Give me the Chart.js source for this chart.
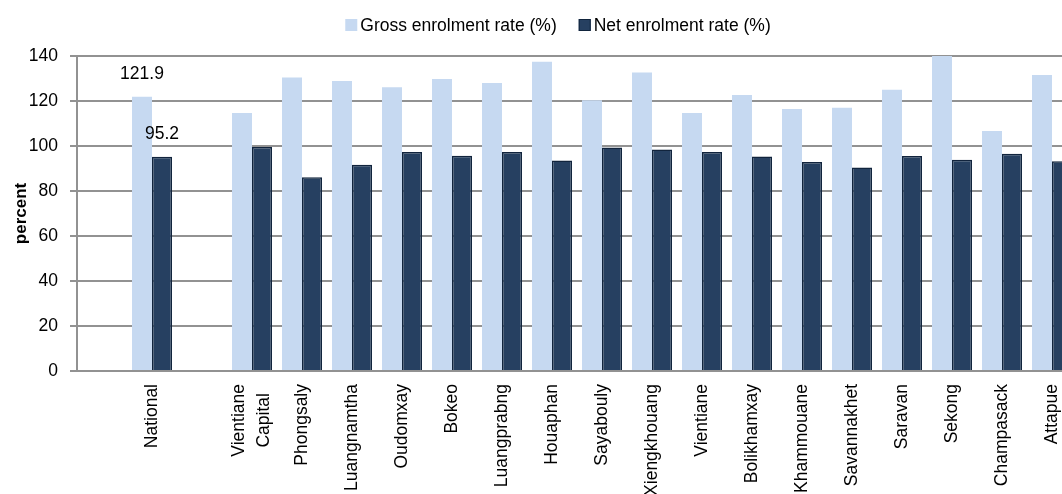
<!DOCTYPE html>
<html>
<head>
<meta charset="utf-8">
<script src="https://cdn.jsdelivr.net/npm/chart.js@4.4.1/dist/chart.umd.min.js"></script>
<style>
    html, body { margin: 0; padding: 0; background: #fff; overflow: hidden; }
    #wrap { width: 1062px; height: 494px; overflow: hidden; }
</style>
</head>
<body>
<div id="wrap"><canvas id="chart" width="1077" height="494"></canvas></div>
<script>
// categories (first and third slots are empty spacers, as in the original)
const regions = ['', 'National', '', ['Vientiane', 'Capital'], 'Phongsaly', 'Luangnamtha', 'Oudomxay', 'Bokeo',
    'Luangprabng', 'Houaphan', 'Sayabouly', 'Xiengkhouang', 'Vientiane', 'Bolikhamxay', 'Khammouane',
    'Savannakhet', 'Saravan', 'Sekong', 'Champasack', 'Attapue'];
const grossRate = [null, 121.9, null, 114.7, 130.5, 128.9, 126.1, 129.8, 128.0, 137.5, 120.3, 132.7,
    114.7, 122.7, 116.4, 117.0, 125.0, 142.0, 106.7, 131.6];
const netRate = [null, 95.2, null, 99.6, 86.1, 91.7, 97.3, 95.7, 97.3, 93.6, 99.3, 98.4,
    97.3, 95.3, 92.9, 90.4, 95.6, 93.9, 96.6, 93.2];
const yTicks = [0, 20, 40, 60, 80, 100, 120, 140];
const labelledBars = ['National'];

const FONT = "'Liberation Sans', Arial, sans-serif";
const FS = 17.5;
const GRID = '#929292';

// value labels above the National bars
const valueLabels = {
    id: 'valueLabels',
    afterDatasetsDraw(chart) {
        const ctx = chart.ctx;
        ctx.save();
        ctx.font = FS + 'px ' + FONT;
        ctx.fillStyle = '#000';
        ctx.textAlign = 'center';
        ctx.textBaseline = 'middle';
        chart.data.datasets.forEach((ds, di) => {
            const meta = chart.getDatasetMeta(di);
            chart.data.labels.forEach((lab, i) => {
                if (!labelledBars.includes(lab)) return;
                const bar = meta.data[i];
                ctx.fillText(ds.data[i].toFixed(1), bar.x, bar.y - 23);
            });
        });
        ctx.restore();
    }
};

// two-line category labels: centre the lines on the tick, like Excel does
const centerMultiline = {
    id: 'centerMultiline',
    beforeDraw(chart) {
        const scale = chart.scales.x;
        const ctx = chart.ctx;
        scale.getLabelItems().forEach(item => {
            if (!Array.isArray(item.label) || item._centered) return;
            const lh = item.font.lineHeight;
            const n = item.label.length;
            ctx.save();
            ctx.font = item.font.string;
            const w = Math.max(...item.label.map(s => ctx.measureText(s).width));
            ctx.restore();
            const [x, y] = item.options.translation;
            item.options = Object.assign({}, item.options, {
                translation: [x - (n - 1) * lh / 2, y + w / 2],
                textAlign: 'center'
            });
            item._centered = true;
        });
    }
};

// legend drawn by hand so the swatch sits tight against its text
const topLegend = {
    id: 'topLegend',
    afterDraw(chart) {
        const ctx = chart.ctx;
        const box = 12, gap = 3, spacing = 22, cx = 558, cy = 25;
        ctx.save();
        ctx.font = FS + 'px ' + FONT;
        ctx.textBaseline = 'middle';
        ctx.textAlign = 'left';
        const items = chart.data.datasets.map(ds => ({
            text: ds.label,
            fill: ds.backgroundColor,
            border: ds.borderWidth ? ds.borderColor : null,
            w: ctx.measureText(ds.label).width
        }));
        const total = items.reduce((s, it) => s + box + gap + it.w, 0) + spacing * (items.length - 1);
        let x = cx - total / 2;
        items.forEach(it => {
            ctx.fillStyle = it.fill;
            ctx.fillRect(x, cy - box / 2, box, box);
            if (it.border) {
                ctx.strokeStyle = it.border;
                ctx.lineWidth = 1;
                ctx.strokeRect(x + 0.5, cy - box / 2 + 0.5, box - 1, box - 1);
            }
            ctx.fillStyle = '#000';
            ctx.fillText(it.text, x + box + gap, cy + 1);
            x += box + gap + it.w + spacing;
        });
        ctx.restore();
    }
};

new Chart(document.getElementById('chart'), {
    type: 'bar',
    data: {
        labels: regions,
        datasets: [
            {
                label: 'Gross enrolment rate (%)',
                data: grossRate,
                backgroundColor: '#c6d9f1',
                borderWidth: 0
            },
            {
                label: 'Net enrolment rate (%)',
                data: netRate,
                backgroundColor: '#264061',
                borderColor: '#11243d',
                borderWidth: 1.5
            }
        ]
    },
    options: {
        responsive: false,
        animation: false,
        devicePixelRatio: 1,
        layout: { padding: { top: 56, left: 0, right: 0, bottom: 0 } },
        datasets: { bar: { categoryPercentage: 0.8, barPercentage: 1.0 } },
        plugins: {
            legend: { display: false },
            tooltip: { enabled: false }
        },
        scales: {
            x: {
                grid: { display: false, drawTicks: false },
                border: { display: true, color: GRID, width: 2 },
                ticks: {
                    autoSkip: false,
                    maxRotation: 90,
                    minRotation: 90,
                    padding: 13,
                    color: '#000',
                    font: { family: FONT, size: FS, lineHeight: 1.43 }
                },
                afterFit(scale) {
                    scale.height = 123;
                    scale.paddingLeft = 0;
                    scale.paddingRight = 0;
                }
            },
            y: {
                min: 0,
                max: 140,
                afterBuildTicks(scale) {
                    scale.ticks = yTicks.map(v => ({ value: v }));
                },
                grid: { color: GRID, lineWidth: 2, tickLength: 7 },
                border: { display: true, color: GRID, width: 2 },
                ticks: {
                    padding: 12,
                    color: '#000',
                    font: { family: FONT, size: FS }
                },
                title: {
                    display: true,
                    text: 'percent',
                    color: '#000',
                    font: { family: FONT, size: 17, weight: 'bold' },
                    padding: { top: 11, bottom: 0 }
                },
                afterFit(scale) {
                    scale.width = 77;
                    scale.paddingTop = 0;
                    scale.paddingBottom = 0;
                }
            }
        }
    },
    plugins: [valueLabels, centerMultiline, topLegend]
});
</script>
</body>
</html>
